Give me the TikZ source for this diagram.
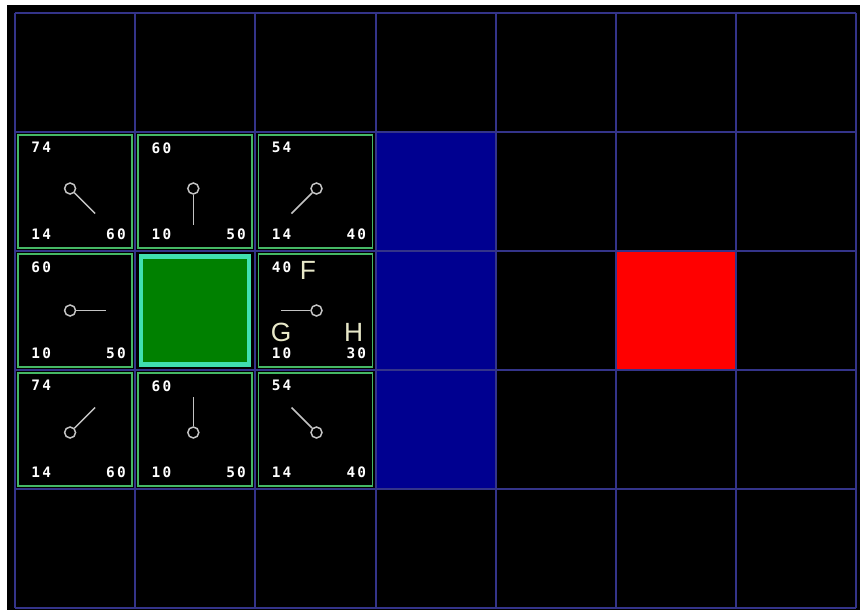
\documentclass[tikz,border=0pt]{standalone}
\usepackage{fontspec}
\usepackage{xcolor}
\usepackage{tikz}
\usetikzlibrary{positioning, calc}
\newfontfamily\pixfont{DejaVu Sans Mono}[LetterSpace=15]
\newfontfamily\letterfont{Liberation Sans}

\definecolor{gridblue}{HTML}{34348A}
\definecolor{openedge}{HTML}{45B865}
\definecolor{startfill}{HTML}{008000}
\definecolor{startedge}{HTML}{40E0B0}
\definecolor{wallblue}{HTML}{000090}
\definecolor{goalred}{HTML}{FF0000}
\definecolor{pointergray}{HTML}{C4C4C4}
\definecolor{letterc}{HTML}{E8E8C8}

\begin{document}
\begin{tikzpicture}[x=0.02cm, y=-0.02cm]
        \tikzstyle{gridline} = [draw=gridblue, line width=1.1pt]
        \tikzstyle{opencell} = [rectangle, draw=openedge, line width=1.1pt, minimum width=2.28cm, minimum height=2.26cm, inner sep=0pt]
        \tikzstyle{startcell} = [rectangle, draw=startedge, fill=startfill, line width=2.3pt, minimum width=2.16cm, minimum height=2.16cm, inner sep=0pt]
        \tikzstyle{score} = [font=\pixfont\bfseries\fontsize{8.2}{9}\selectfont, text=white, inner sep=0pt]
        \tikzstyle{tag} = [font=\letterfont\fontsize{15}{16}\selectfont, text=letterc, inner sep=0pt]
        \tikzstyle{knob} = [circle, draw=pointergray, line width=0.85pt, minimum size=0.22cm, inner sep=0pt]
        \tikzstyle{stem} = [draw=pointergray, line width=0.85pt]

        \useasboundingbox (0,0) rectangle (865,613);
        \fill[white] (0,0) rectangle (865,613);
        \fill[black] (7,5) rectangle (860,610);

        % wall and goal
        \fill[wallblue] (375.6,132) rectangle (495.8,489);
        \fill[goalred] (616,251) rectangle (736.2,370);

        % grid
        \foreach \i in {0,...,7}
            \draw[gridline] ({15+120.2*\i},13) -- ({15+120.2*\i},608);
        \foreach \j in {0,...,5}
            \draw[gridline] (15,{13+119*\j}) -- (856.4,{13+119*\j});

        \node[startcell] (start) at (195.3,310.5) {};

        % open cells: name/col/row/F/G/H/direction to parent
        \foreach \name/\col/\row/\f/\g/\h/\dx/\dy in {ul/0/1/74/14/60/1/1, um/1/1/60/10/50/0/1, ur/2/1/54/14/40/-1/1, ml/0/2/60/10/50/1/0, mr/2/2/40/10/30/-1/0, ll/0/3/74/14/60/1/-1, lm/1/3/60/10/50/0/-1, lr/2/3/54/14/40/-1/-1} {
            \node[opencell] (\name) at ({75.1+120.2*\col},{72.5+119*\row}) {};
            \node[score, anchor=north west] (\name-f) at ([shift={(14,8)}]\name.north west) {\f};
            \node[score, anchor=south west] (\name-g) at ([shift={(14,-9)}]\name.south west) {\g};
            \node[score, anchor=south east] (\name-h) at ([shift={(-7,-9)}]\name.south east) {\h};
            \pgfmathsetmacro\len{(\dx*\dy==0) ? 36 : 25}
            \node[knob] (\name-k) at ([shift={({-2-3*\dx},{-3*\dy})}]\name.center) {};
            \coordinate (\name-tip) at ([shift={({\len*\dx},{\len*\dy})}]\name-k.center);
            \draw[stem] (\name-k) -- (\name-tip);
        }

        \node[tag, anchor=north west] (tagF) at ([shift={(42,8)}]mr.north west) {F};
        \node[tag, anchor=south west] (tagG) at ([shift={(13,-26)}]mr.south west) {G};
        \node[tag, anchor=south east] (tagH) at ([shift={(-10,-26)}]mr.south east) {H};
\end{tikzpicture}
\end{document}
